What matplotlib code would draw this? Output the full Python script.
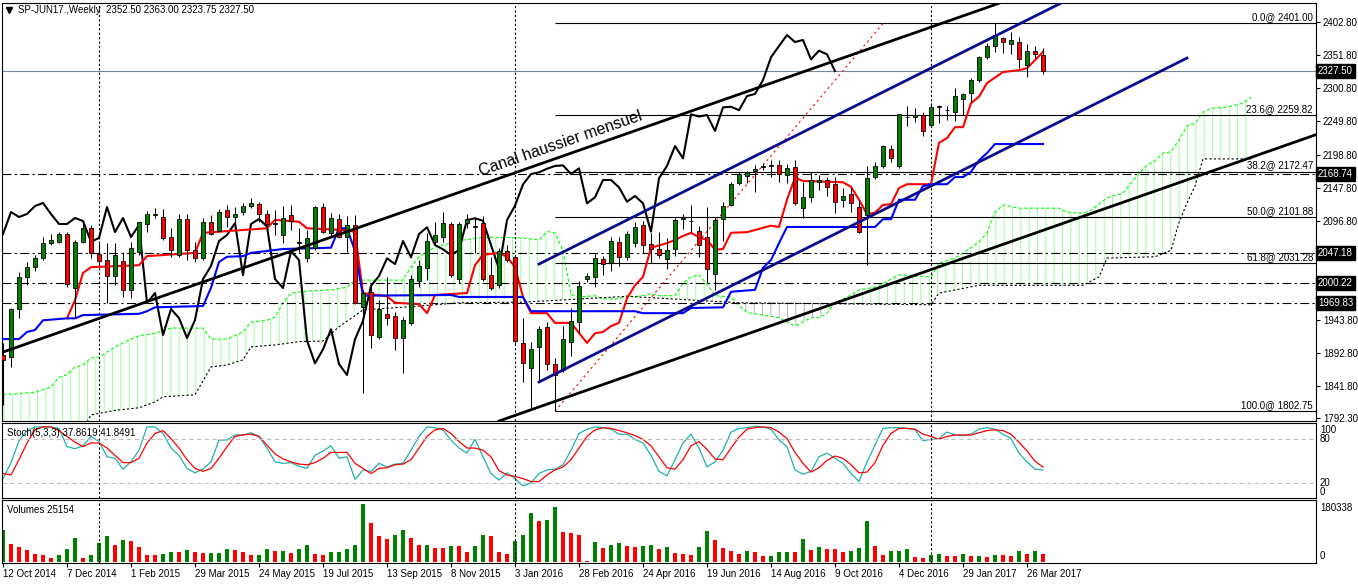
import numpy as np
import matplotlib
matplotlib.use("Agg")
import matplotlib.pyplot as plt
import matplotlib.transforms as mtransforms
from matplotlib.patches import Polygon

plt.rcParams['font.family'] = ['Liberation Sans', 'DejaVu Sans']
plt.rcParams['hatch.linewidth'] = 0.55

# ---- weekly candles SP-JUN17 (12 Oct 2014 .. 9 Apr 2017) ----
opens = np.array([
    1889.5, 1886.3, 1960.4, 2009.8, 2025.2, 2039, 2062, 2063.8, 2076, 1992.8,
    2063.8, 2085.4, 2045.3, 2036, 2011.3, 2034.5, 1989.7, 2048.4, 2091.6, 2106.2,
    2102.4, 2071.5, 2043.7, 2099.3, 2051.5, 2039, 2094.7, 2080.8, 2113.2, 2102.4,
    2110, 2119.3, 2123.2, 2107, 2093.6, 2074.6, 2105.5, 2061.8, 2039, 2054.5,
    2117.8, 2077.7, 2099.3, 2071.5, 2090, 1963.5, 1986.6, 1917.2, 1952.7, 1949.6,
    1915.7, 1938.8, 2003.6, 2023.7, 2063.8, 2071.5, 2091.6, 2006.7, 2093.1, 2088.5,
    2093.1, 2012.9, 1997.5, 2049.9, 2039.9, 1908.7, 1868.9, 1902.2, 1932.2, 1875.1,
    1866.3, 1909, 1940.8, 2006.2, 2009.3, 2037.1, 2030.9, 2063.3, 2040.2, 2062.7,
    2089.6, 2060.3, 2052.5, 2037.1, 2052.5, 2099.7, 2096.2, 2081.2, 2071, 2014.4,
    2098.8, 2120.9, 2155.3, 2166.1, 2173.8, 2179, 2181.8, 2182.6, 2167.2, 2179,
    2115.8, 2132.8, 2155.9, 2159.5, 2153.3, 2128.6, 2137.9, 2117.3, 2105.5, 2164.5,
    2181.1, 2206.8, 2181.1, 2257.1, 2256.2, 2259.8, 2244.3, 2272.9, 2267.5, 2264.8,
    2284, 2293.2, 2313.8, 2348.8, 2366.2, 2378.1, 2369.3, 2372.9, 2336.9, 2359,
    2352.5])
highs = np.array([
    1908, 1962, 2017.5, 2033, 2043.7, 2071.5, 2076, 2079, 2079, 2067,
    2091.5, 2090, 2062, 2062, 2062, 2048.4, 2063.8, 2094.7, 2111.6, 2116.3,
    2114.7, 2085.4, 2107, 2107, 2063.8, 2100.8, 2105.5, 2114.7, 2120.9, 2117.8,
    2124, 2131.7, 2125.5, 2113.2, 2113.2, 2119.3, 2120.9, 2085.4, 2082.3, 2119.3,
    2124, 2108.5, 2107, 2103.9, 2105.5, 1989.7, 2000.5, 1974.3, 2009.8, 1955.8,
    1948, 2012.9, 2036, 2077.7, 2094.7, 2110, 2094.7, 2094.7, 2107, 2102.4,
    2103.9, 2040, 2054.5, 2059.2, 2043.7, 1946.5, 1910, 1934.6, 1940.8, 1884.4,
    1934.2, 1961.5, 2004.1, 2015.5, 2046.4, 2042.2, 2071, 2071, 2081.2, 2095.1,
    2096.7, 2077.2, 2079.7, 2069.5, 2100.4, 2107, 2120.9, 2088.5, 2118.3, 2102.8,
    2126, 2156.8, 2172.3, 2173.8, 2182.6, 2185.2, 2190.3, 2190.3, 2184.2, 2190.3,
    2156.8, 2172.3, 2167.2, 2164.5, 2164.5, 2146.7, 2146.7, 2128.6, 2181.1, 2187.7,
    2213.5, 2213.5, 2261.3, 2273.6, 2270.1, 2264.8, 2277.8, 2275.2, 2273.6, 2300.9,
    2294.2, 2316.4, 2350.8, 2370.4, 2401, 2380.6, 2388.3, 2380.6, 2369.3, 2366.2,
    2363])
lows = np.array([
    1812.3, 1871, 1946.5, 1997.5, 2019, 2036, 2059, 2063, 1994.4, 1946.5,
    2063, 2039, 2028.3, 1969.7, 1997.5, 1979, 1977.4, 2043.7, 2079.2, 2100.8,
    2066.9, 2040.6, 2040.6, 2036, 2033, 2036, 2074.6, 2079.2, 2086.9, 2090,
    2105.5, 2116.3, 2094.7, 2077.7, 2074.6, 2062, 2082.3, 2048.4, 2033, 2051.5,
    2077.7, 2074.6, 2070, 2048.4, 1968.1, 1830.8, 1900.2, 1914, 1935.7, 1897.2,
    1861.7, 1935.7, 1994.4, 2005.2, 2059, 2063.8, 2009.8, 1999.9, 2085.4, 2046.8,
    2003.6, 1989.7, 1992.8, 2033, 1904.9, 1848.2, 1805.7, 1850.9, 1866.3, 1802.75,
    1863.7, 1887.9, 1922.9, 2002.5, 1994.8, 2012.9, 2019.5, 2026.8, 2036, 2056.5,
    2046.4, 2030.9, 2038.6, 2021.7, 2042.2, 2083.4, 2079.7, 2041.1, 2000.1, 1989.7,
    2065.8, 2119.3, 2151.7, 2155.3, 2141.4, 2174.9, 2164.5, 2156.8, 2154.4, 2120.9,
    2100.4, 2126, 2144, 2134.8, 2108.1, 2118.3, 2110.5, 2077.2, 2028.3, 2160.5,
    2177.5, 2187.7, 2177.5, 2242.8, 2249.4, 2227.3, 2241.7, 2246.9, 2252, 2251,
    2259.8, 2280.3, 2311.1, 2345.7, 2357.4, 2354.9, 2353.9, 2331.8, 2318.9, 2347.2,
    2323.75])
closes = np.array([
    1881.7, 1960.4, 2009.8, 2025.2, 2039, 2062, 2066.9, 2076, 1999, 2063.8,
    2085.4, 2046.8, 2034.5, 2011.3, 2043.7, 1989.7, 2054.5, 2094.7, 2107, 2107,
    2070, 2051.5, 2099.3, 2051.5, 2039, 2094.7, 2076, 2110, 2102.4, 2107,
    2119.3, 2124, 2107, 2091.6, 2091.6, 2100.8, 2096.2, 2064.3, 2070, 2117.8,
    2079.2, 2100.8, 2071.5, 2090, 1969.7, 1985.1, 1920.3, 1960.4, 1946.5, 1915.7,
    1943.4, 2006.7, 2026.8, 2065.3, 2074.6, 2093.1, 2012.9, 2091.6, 2099.3, 2087.7,
    2006.7, 1992.8, 2049.9, 2036, 1911.8, 1876.6, 1898.2, 1929.1, 1875.5, 1858.6,
    1913.7, 1942.4, 1996.1, 2011.3, 2038.6, 2029.8, 2065.3, 2040.2, 2076.1, 2086.5,
    2059.2, 2052.5, 2043.7, 2051.5, 2097.7, 2100.4, 2096.6, 2059.2, 2022.1, 2097.7,
    2119.8, 2152.8, 2168.7, 2171.3, 2176.9, 2181.1, 2182.1, 2168.7, 2177.5, 2123.5,
    2132.8, 2159.5, 2159.5, 2148.2, 2126, 2134.8, 2123.5, 2079.7, 2162.1, 2181.1,
    2211.9, 2192.9, 2260.8, 2257.4, 2259.8, 2235.1, 2271.6, 2272.5, 2267.2, 2289,
    2292.2, 2313.8, 2348.8, 2366.2, 2383.2, 2372.4, 2375.5, 2345.7, 2359, 2353.4,
    2327.5])
volumes = np.array([
    99000, 55000, 47000, 37000, 24000, 21000, 12000, 21000, 41000, 75000,
    12500, 21000, 58000, 80000, 52000, 68000, 65000, 47000, 21000, 20000,
    24000, 30000, 29000, 37000, 30000, 26500, 27500, 28000, 40000, 37000,
    30000, 21000, 22000, 40000, 33000, 34000, 28000, 41000, 52000, 24000,
    21000, 30000, 31000, 41000, 52000, 180338, 120000, 80000, 71000, 83000,
    99000, 75000, 52000, 53000, 44000, 43000, 49000, 48000, 30000, 49000,
    83000, 80000, 30000, 24000, 65000, 83000, 153000, 128000, 130000, 171000,
    93000, 90000, 83000, 1000, 62000, 44000, 52000, 58000, 49000, 46000,
    49000, 52000, 40000, 46000, 27000, 24000, 21000, 46000, 96000, 68000,
    43000, 33000, 24000, 33000, 30000, 18000, 19000, 30000, 31000, 30000,
    71000, 37000, 46000, 40000, 39000, 30000, 33000, 43000, 127000, 49000,
    21000, 33000, 35000, 40000, 16000, 12000, 21000, 24000, 18000, 17000,
    24000, 18000, 19000, 15000, 21000, 20000, 18000, 33000, 24000, 33000,
    25154])

# Stochastic (5,3,3)
stoch_main = np.array([
    26, 48, 78, 92, 97, 97, 97, 95, 70, 67, 71, 84, 77, 56, 54, 39, 49, 65, 97, 97,
    88, 68, 58, 40, 34, 39, 49, 79, 79, 86, 86, 89, 84, 68, 49, 47, 48, 43, 40, 58,
    64, 71, 54, 56, 25, 38, 36, 47, 42, 46, 47, 65, 84, 97, 96, 93, 79, 68, 61, 80,
    56, 33, 24, 34, 26, 16, 20, 33, 38, 39, 45, 65, 88, 94, 97, 96, 94, 87, 87, 80,
    75, 58, 36, 30, 52, 75, 87, 68, 42, 49, 65, 90, 95, 96, 98, 97, 94, 79, 70, 38,
    32, 36, 56, 61, 54, 47, 33, 22, 49, 72, 95, 96, 96, 95, 93, 78, 80, 81, 90, 86,
    85, 87, 94, 96, 94, 87, 81, 61, 49, 39, 37.8619])
stoch_signal = np.array([
    33, 31, 52, 75, 93, 97, 97, 92, 84, 76, 70, 75, 75, 68, 58, 48, 48, 54, 75, 88,
    92, 81, 68, 52, 40, 36, 40, 54, 70, 84, 86, 87, 84, 72, 60, 53, 49, 46, 45, 48,
    54, 62, 62, 62, 47, 40, 33, 40, 41, 45, 46, 52, 68, 84, 93, 95, 88, 77, 68, 68,
    65, 56, 37, 31, 29, 26, 22, 22, 31, 38, 42, 52, 68, 84, 93, 96, 95, 92, 89, 85,
    80, 71, 56, 41, 39, 52, 71, 77, 66, 53, 52, 68, 83, 94, 96, 97, 96, 90, 81, 62,
    47, 35, 41, 51, 57, 54, 45, 34, 35, 48, 72, 88, 95, 95, 94, 87, 84, 80, 84, 86,
    86, 86, 89, 92, 93, 92, 87, 76, 64, 50, 41.8491])

# Ichimoku lines (bar index, price)
tenkan_bars = [8, 9, 10, 11, 17, 18, 24, 25, 33, 34, 37, 38, 43, 44, 45, 48, 49, 52, 53, 54,
               58, 59, 60, 62, 63, 64, 65, 66, 68, 69, 71, 73, 74, 75, 76, 77, 78, 79, 80, 81,
               83, 84, 85, 86, 87, 88, 89, 90, 91, 93, 96, 97, 98, 99, 100, 105, 106, 107, 108, 109,
               110, 111, 112, 113, 116, 117, 118, 119, 120, 121, 122, 123, 125, 127, 128, 130]
tenkan = [1946, 1974, 2016, 2025, 2028, 2042, 2047, 2078, 2085, 2098, 2095, 2085, 2082, 2079, 1985,
          1980, 1970, 1968, 1954, 1982, 1985, 2028, 2044, 2047, 2041, 2025, 1979, 1954, 1954, 1939,
          1939, 1908, 1923, 1925, 1934, 1939, 1977, 1997, 2010, 2055, 2062, 2067, 2073, 2078, 2071,
          2067, 2052, 2053, 2078, 2079, 2089, 2087, 2129, 2163, 2158, 2156, 2149, 2129, 2107, 2109,
          2121, 2122, 2147, 2153, 2153, 2217, 2224, 2241, 2241, 2278, 2288, 2309, 2326, 2329, 2332,
          2357]
kijun_bars = [0, 2, 3, 4, 5, 8, 9, 10, 17, 18, 19, 25, 26, 27, 28, 30, 31, 35, 41, 42, 43, 44, 45,
              56, 57, 65, 66, 79, 80, 85, 86, 90, 91, 94, 95, 96, 97, 98, 109, 110, 111, 112,
              114, 115, 116, 118, 119, 120, 121, 122, 123, 124, 130]
kijun = [1914, 1914, 1925, 1928, 1943, 1946, 1946, 1951, 1953, 1957, 1963, 1965, 1993, 2033, 2041,
         2042, 2047, 2053, 2055, 2085, 2085, 2050, 1981, 1982, 1979, 1979, 1957, 1957, 1954, 1954,
         1962, 1963, 1987, 1990, 2024, 2036, 2062, 2087, 2087, 2099, 2099, 2129, 2129, 2150, 2153,
         2153, 2164, 2164, 2172, 2190, 2201, 2215, 2215]
span_a_bars = [0, 1, 4, 6, 7, 8, 9, 10, 11, 12, 14, 16, 17, 19, 21, 25, 26, 28, 30, 31,
               33, 34, 35, 36, 38, 41, 43, 44, 50, 51, 52, 54, 55, 57, 60, 61, 65, 67, 68, 69,
               70, 71, 72, 74, 75, 77, 78, 79, 81, 82, 84, 85, 86, 87, 88, 89, 91, 92, 93, 97,
               99, 101, 102, 103, 104, 106, 107, 109, 110, 112, 116, 117, 119, 121, 122, 123, 124, 125, 127, 132,
               133, 135, 136, 138, 139, 140, 141, 143, 144, 145, 146, 147, 148, 149, 150, 151, 153, 155, 156]
span_a = [1829, 1829, 1832, 1840, 1855, 1859, 1871, 1874, 1885, 1886, 1902, 1914, 1919, 1923, 1931,
          1931, 1914, 1914, 1925, 1940, 1943, 1948, 1970, 1985, 1988, 1990, 1994, 2005, 2005, 2025,
          2041, 2056, 2059, 2066, 2071, 2071, 2070, 2067, 2080, 2078, 2050, 1983, 1979, 1981, 1976,
          1976, 1981, 1979, 1984, 1981, 1981, 2000, 2010, 2013, 1999, 1981, 1979, 1966, 1955, 1947,
          1934, 1947, 1947, 1954, 1970, 1982, 1990, 1994, 2000, 2013, 2010, 2031, 2039, 2055, 2064,
          2078, 2110, 2121, 2116, 2116, 2110, 2108, 2113, 2132, 2136, 2139, 2155, 2183, 2189, 2201,
          2203, 2221, 2243, 2247, 2264, 2270, 2272, 2278, 2287]
span_b_bars = [0, 10, 11, 14, 17, 19, 20, 24, 26, 28, 30, 31, 34, 37, 40, 42, 44, 45, 51, 57,
               65, 78, 92, 116, 117, 122, 135, 137, 138, 144, 146, 147, 148, 149, 150, 156]
span_b = [1760, 1775, 1797, 1804, 1808, 1817, 1825, 1828, 1871, 1874, 1882, 1902, 1905, 1910, 1911,
          1933, 1950, 1959, 1964, 1970, 1971, 1980, 1970, 1967, 1985, 1997, 1997, 2010, 2039, 2041,
          2051, 2094, 2124, 2150, 2192, 2192]

# Fibonacci retracement and drawn objects
fib_levels = ["0.0", "23.6", "38.2", "50.0", "61.8", "100.0"]
fib_prices = [2401.00, 2259.82, 2172.47, 2101.88, 2031.28, 1802.75]
fib_anchor_bars = [69, 110]
hlines_prices = [2168.74, 2047.18, 2000.22, 1969.83]
last_price = 2327.50
channel_up = [(0, 1894.0), (124, 2430.0)]
channel_low = [(62, 1787.6), (164, 2228.9)]
blue_up = ([67, 148], [2029.8, 2529.6])
blue_low = ([67, 148], [1847.8, 2347.7])
year_bars = [12, 64, 116]

price_ticks = [2402.80, 2351.80, 2300.80, 2249.80, 2198.80, 2147.80, 2096.80,
               1943.80, 1892.80, 1841.80, 1792.30]
date_labels = ["12 Oct 2014", "7 Dec 2014", "1 Feb 2015", "29 Mar 2015", "24 May 2015",
               "19 Jul 2015", "13 Sep 2015", "8 Nov 2015", "3 Jan 2016", "28 Feb 2016",
               "24 Apr 2016", "19 Jun 2016", "14 Aug 2016", "9 Oct 2016", "4 Dec 2016",
               "29 Jan 2017", "26 Mar 2017"]

GREEN = "#008000"
RED = "#ff0000"
LIME = "#00ff00"
NAVY = "#0c0c8a"

n = len(closes)
bars = np.arange(n)
date_ticks = np.arange(0, n, 8)[:len(date_labels)]

fig = plt.figure(figsize=(13.58, 5.84), dpi=100)
L, W = 2 / 1358, 1314 / 1358
ax = fig.add_axes([L, 1 - 421 / 584, W, 418 / 584])
ax_st = fig.add_axes([L, 1 - 498 / 584, W, 75 / 584], sharex=ax)
ax_v = fig.add_axes([L, 1 - 563 / 584, W, 63 / 584], sharex=ax)

ax.set_xlim(-0.125, 164.125)
ax.set_ylim(1787.6, 2432.6)
ax_st.set_ylim(-0.6, 102.4)
ax_v.set_ylim(-4000, 193000)

# --- Ichimoku cloud (hatched) ---
a_pts = list(zip(span_a_bars, span_a))
b_pts = list(zip(span_b_bars, span_b))
between = a_pts + b_pts[::-1]
below_a = a_pts + [(span_a_bars[-1], 0), (span_a_bars[0], 0)]
above_a = a_pts + [(span_a_bars[-1], 5000), (span_a_bars[0], 5000)]
cloud_up = Polygon(between, closed=True, fill=False, hatch="||", edgecolor=LIME,
                   linewidth=0, alpha=0.5, zorder=1)
cloud_dn = Polygon(between, closed=True, fill=False, hatch="||", edgecolor="#333333",
                   linewidth=0, alpha=0.45, zorder=1)
ax.add_patch(cloud_up)
ax.add_patch(cloud_dn)
cloud_up.set_clip_path(Polygon(below_a, transform=ax.transData))
cloud_dn.set_clip_path(Polygon(above_a, transform=ax.transData))
ax.plot(span_a_bars, span_a, color=LIME, lw=0.8, ls=(0, (3, 2)), zorder=2)
ax.plot(span_b_bars, span_b, color="black", lw=0.8, ls=(0, (2, 2)), zorder=2)

# --- horizontal levels ---
ax.axhline(last_price, color="#778899", lw=0.8, zorder=2)
for p in hlines_prices:
    ax.axhline(p, color="black", lw=0.8, ls=(0, (8, 3, 2, 3)), zorder=2)
ax.hlines(fib_prices, fib_anchor_bars[0], 164.125, color="black", lw=0.8, zorder=2)
ax.plot(fib_anchor_bars, [fib_prices[-1], fib_prices[0]], color=RED, lw=0.8,
        ls=(0, (2, 3)), zorder=2)
blend = mtransforms.blended_transform_factory(ax.transAxes, ax.transData)
for lvl, p in zip(fib_levels, fib_prices):
    ax.text(0.9977, p + 1.5, f"{lvl}@ {p:.2f}", transform=blend, ha="right",
            va="bottom", fontsize=7)

# --- Ichimoku lines ---
ax.plot(bars[:-26], closes[26:], color="black", lw=1.5, zorder=3)
ax.plot(tenkan_bars, tenkan, color=RED, lw=1.5, zorder=3)
ax.plot(kijun_bars, kijun, color="#0000ff", lw=1.5, zorder=3)

# --- candles ---
up = closes >= opens
ax.vlines(bars, lows, highs, color="black", lw=0.75, zorder=4)
ax.bar(bars, np.abs(closes - opens), bottom=np.minimum(opens, closes), width=0.6,
       color=np.where(up, GREEN, RED), edgecolor="black", linewidth=0.6, zorder=5)

# --- drawn channels ---
ax.axline(channel_up[0], channel_up[1], color="black", lw=2, zorder=6)
ax.axline(channel_low[0], channel_low[1], color="black", lw=2, zorder=6)
ax.plot(*blue_up, color=NAVY, lw=2, zorder=6)
ax.plot(*blue_low, color=NAVY, lw=2, zorder=6)
ax.text(69.75, 2215, "Canal haussier mensuel", rotation=19.1, rotation_mode="anchor",
        ha="center", va="center", fontsize=11.5, zorder=7)

# --- stochastic ---
ax_st.plot(bars, stoch_main, color="#20b2aa", lw=0.9)
ax_st.plot(bars, stoch_signal, color=RED, lw=0.9)
for lv in (80, 20):
    ax_st.axhline(lv, color="#c0c0c0", lw=0.8, ls=(0, (4, 3)))

# --- volumes ---
prev = np.concatenate([[0], volumes[:-1]])
ax_v.bar(bars, volumes, width=0.6, color=np.where(volumes > prev, GREEN, RED))

for a in (ax, ax_st, ax_v):
    for b in year_bars:
        a.axvline(b, color="black", lw=0.8, ls=(0, (2, 2)), zorder=2)
    for s in a.spines.values():
        s.set_color("black")
        s.set_linewidth(0.8)

# --- axes labels / texts ---
ax.yaxis.tick_right()
ax.set_yticks(price_ticks)
ax.set_yticklabels([f"{p:.2f}" for p in price_ticks])
ax.tick_params(axis="y", direction="out", length=3, labelsize=7, pad=2)
ax.tick_params(axis="x", bottom=False, labelbottom=False)
ax_st.tick_params(axis="both", left=False, labelleft=False, bottom=False, labelbottom=False)
ax_st.set_yticks([])
ax_v.set_yticks([])
ax_v.set_xticks(date_ticks)
ax_v.set_xticklabels(date_labels, ha="left")
ax_v.tick_params(axis="x", direction="out", length=3, labelsize=7, pad=1)

box = dict(boxstyle="square,pad=0.18", fc="black", ec="black")
for p in [last_price] + hlines_prices:
    ax.text(1.0015, p, f"{p:.2f}", transform=blend, color="white", fontsize=7,
            va="center", ha="left", bbox=box)

ax.plot([0.0055], [0.983], marker="v", color="black", markersize=4,
        transform=ax.transAxes, clip_on=False)
ax.text(0.0122, 0.983, "SP-JUN17.,Weekly  2352.50 2363.00 2323.75 2327.50",
        transform=ax.transAxes, ha="left", va="center", fontsize=7)
ax_st.text(0.004, 0.867, "Stoch(5,3,3) 37.8619 41.8491", transform=ax_st.transAxes,
           ha="left", va="center", fontsize=7)
for txt, yf in (("100", 0.907), ("80", 0.783), ("20", 0.2), ("0", 0.084)):
    ax_st.text(1.003, yf, txt, transform=ax_st.transAxes, ha="left", va="center", fontsize=7)
ax_v.text(0.004, 0.84, "Volumes 25154", transform=ax_v.transAxes, ha="left",
          va="center", fontsize=7)
ax_v.text(1.003, 0.878, "180338", transform=ax_v.transAxes, ha="left", va="center", fontsize=7)
ax_v.text(1.003, 0.111, "0", transform=ax_v.transAxes, ha="left", va="center", fontsize=7)

fig.savefig("out.png", dpi=100, facecolor="white")
